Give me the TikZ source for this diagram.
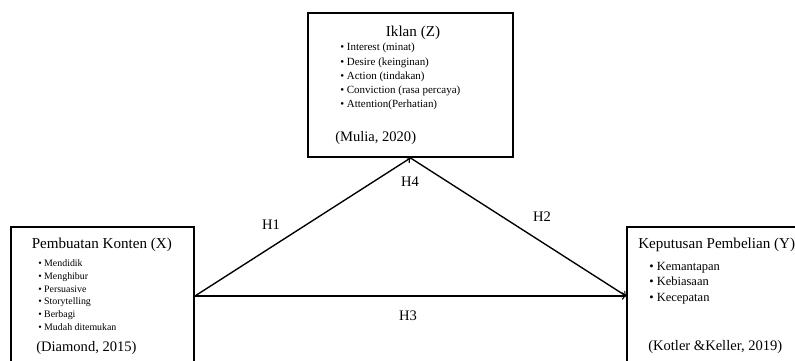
\documentclass[tikz,border=0pt]{standalone}
\usepackage{fontspec}
\setmainfont{Liberation Serif}

\tikzset{
  box/.style={draw, line width=1.4pt, inner sep=0pt},
  link/.style={->, line width=1pt},
  title/.style={anchor=base west, inner sep=0pt, font=\fontsize{11}{13}\selectfont},
  source/.style={anchor=base west, inner sep=0pt, font=\fontsize{10.6}{12}\selectfont},
  itemx/.style={anchor=base west, inner sep=0pt, font=\fontsize{7.2}{9}\selectfont},
  itemz/.style={anchor=base west, inner sep=0pt, font=\fontsize{8}{10}\selectfont},
  itemy/.style={anchor=base west, inner sep=0pt, font=\fontsize{9.1}{11}\selectfont},
  hyp/.style={inner sep=0pt, font=\fontsize{10.6}{12}\selectfont}
}

\begin{document}
\begin{tikzpicture}[x=0.0256cm, y=-0.0256cm]
\useasboundingbox (0,0) rectangle (795,360);
\clip (0,0) rectangle (795,360);

% boxes
\node[box, minimum width=149.3pt, minimum height=104.9pt] (iklan) at (410.5,85) {};
\node[box, minimum width=133.3pt, minimum height=100.5pt] (konten) at (102.5,296) {};
\node[box, minimum width=145.7pt, minimum height=100.5pt] (keputusan) at (727,296) {};

% Iklan (Z)
\node[title, anchor=base] (iklantitle) at (413,36) {Iklan (Z)};
\node[itemz] (z1) at (340,50.8) {\textbullet\ Interest (minat)};
\node[itemz] (z2) at (340,65.0) {\textbullet\ Desire (keinginan)};
\node[itemz] (z3) at (340,79.3) {\textbullet\ Action (tindakan)};
\node[itemz] (z4) at (340,93.5) {\textbullet\ Conviction (rasa percaya)};
\node[itemz] (z5) at (340,107.8) {\textbullet\ Attention(Perhatian)};
\node[source] (iklansrc) at (335,141) {(Mulia, 2020)};

% Pembuatan Konten (X)
\node[title] (kontentitle) at (31.5,248) {Pembuatan Konten (X)};
\node[itemx] (x1) at (38,266.5) {\textbullet\ Mendidik};
\node[itemx] (x2) at (38,279.3) {\textbullet\ Menghibur};
\node[itemx] (x3) at (38,292.1) {\textbullet\ Persuasive};
\node[itemx] (x4) at (38,304.9) {\textbullet\ Storytelling};
\node[itemx] (x5) at (38,317.7) {\textbullet\ Berbagi};
\node[itemx] (x6) at (38,330.5) {\textbullet\ Mudah ditemukan};
\node[source] (kontensrc) at (36,351) {(Diamond, 2015)};

% Keputusan Pembelian (Y)
\node[title] (keputusantitle) at (638,248) {Keputusan Pembelian (Y)};
\node[itemy] (y1) at (649,270.4) {\textbullet\ Kemantapan};
\node[itemy] (y2) at (649,285.9) {\textbullet\ Kebiasaan};
\node[itemy] (y3) at (649,301.4) {\textbullet\ Kecepatan};
\node[source] (keputusansrc) at (648,350) {(Kotler \&Keller, 2019)};

% hypotheses
\draw[link] (konten.east) -- (iklan.south);
\draw[link] (iklan.south) -- (keputusan.west);
\draw[link] (konten.east) -- (keputusan.west);

\node[hyp] (h1) at (271,225) {H1};
\node[hyp] (h2) at (542,217) {H2};
\node[hyp] (h3) at (408,316) {H3};
\node[hyp] (h4) at (410,182) {H4};

\end{tikzpicture}
\end{document}
